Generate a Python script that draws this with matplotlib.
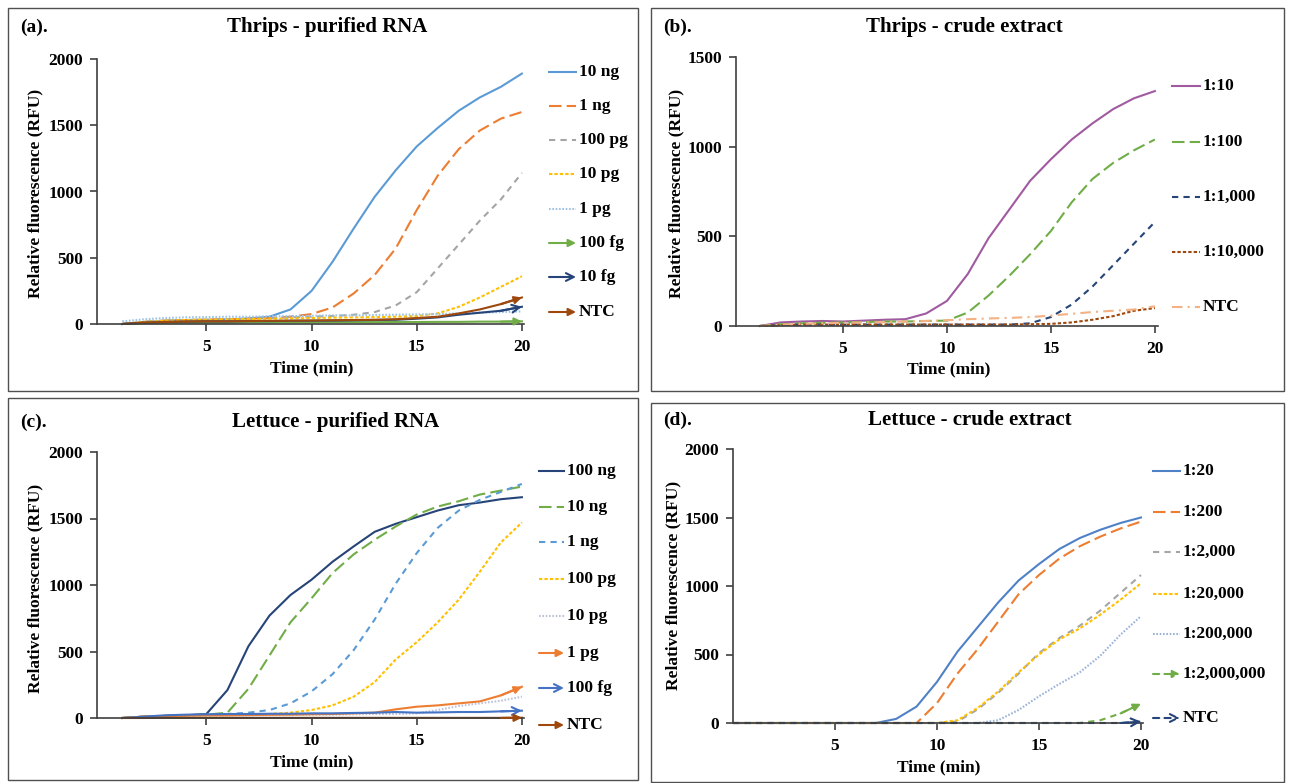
import matplotlib.pyplot as plt
from matplotlib.lines import Line2D
from matplotlib.patches import Rectangle, FancyArrowPatch

plt.rcParams['font.family'] = ['Liberation Serif', 'DejaVu Serif']
plt.rcParams['font.weight'] = 'bold'

# ---------------- data ----------------
time_abc = list(range(1, 21))
time_d = list(range(0, 21))

# (a) Thrips - purified RNA
a_labels = ['10 ng', '1 ng', '100 pg', '10 pg', '1 pg', '100 fg', '10 fg', 'NTC']
a_10ng = [0, 15, 25, 30, 32, 35, 42, 55, 110, 250, 470, 720, 960, 1160, 1340, 1480, 1610, 1710, 1790, 1890]
a_1ng = [0, 15, 25, 30, 32, 35, 40, 45, 55, 75, 125, 230, 370, 570, 860, 1120, 1320, 1460, 1550, 1600]
a_100pg = [0, 15, 25, 30, 32, 35, 40, 45, 50, 55, 60, 70, 90, 140, 240, 420, 600, 780, 940, 1140]
a_10pg = [0, 15, 25, 30, 32, 35, 38, 40, 42, 45, 48, 50, 52, 55, 60, 80, 130, 200, 280, 360]
a_1pg = [20, 35, 45, 50, 52, 55, 55, 58, 60, 62, 65, 65, 68, 70, 72, 75, 80, 85, 90, 95]
a_100fg = [0, 5, 8, 10, 10, 10, 12, 12, 12, 12, 14, 14, 14, 15, 15, 16, 16, 18, 18, 20]
a_10fg = [0, 10, 15, 18, 20, 20, 22, 22, 24, 25, 26, 28, 30, 32, 40, 50, 70, 85, 100, 130]
a_ntc = [0, 10, 15, 18, 20, 20, 22, 24, 25, 26, 28, 30, 32, 36, 45, 55, 80, 110, 150, 200]

# (b) Thrips - crude extract
b_labels = ['1:10', '1:100', '1:1,000', '1:10,000', 'NTC']
b_10 = [0, 20, 25, 28, 25, 30, 35, 38, 70, 140, 290, 490, 650, 810, 930, 1040, 1130, 1210, 1270, 1310]
b_100 = [0, 10, 15, 18, 20, 22, 25, 25, 28, 30, 75, 170, 280, 400, 530, 690, 820, 910, 980, 1040]
b_1000 = [0, 5, 8, 8, 8, 8, 8, 8, 8, 8, 8, 8, 8, 15, 50, 120, 220, 340, 460, 580]
b_10000 = [0, 5, 8, 8, 8, 8, 8, 8, 8, 8, 8, 8, 8, 10, 12, 20, 35, 55, 85, 100]
b_ntc = [0, 8, 12, 15, 18, 20, 22, 25, 28, 32, 38, 42, 45, 50, 58, 68, 78, 85, 92, 110]

# (c) Lettuce - purified RNA
c_labels = ['100 ng', '10 ng', '1 ng', '100 pg', '10 pg', '1 pg', '100 fg', 'NTC']
c_100ng = [0, 10, 15, 20, 30, 210, 540, 770, 925, 1040, 1175, 1290, 1400, 1460, 1510, 1560, 1600, 1620, 1645, 1660]
c_10ng = [0, 10, 15, 20, 25, 40, 220, 470, 720, 900, 1090, 1230, 1340, 1440, 1530, 1590, 1630, 1680, 1710, 1740]
c_1ng = [0, 10, 15, 20, 25, 30, 40, 60, 110, 200, 330, 510, 740, 1010, 1240, 1430, 1560, 1640, 1700, 1760]
c_100pg = [0, 10, 15, 20, 20, 22, 25, 30, 40, 60, 95, 160, 270, 440, 570, 720, 890, 1100, 1320, 1470]
c_10pg = [0, 10, 15, 18, 20, 20, 20, 22, 22, 25, 25, 28, 30, 30, 35, 60, 90, 110, 130, 160]
c_1pg = [0, 10, 15, 18, 20, 20, 22, 24, 25, 28, 30, 35, 40, 65, 85, 95, 110, 125, 170, 235]
c_100fg = [0, 10, 20, 25, 28, 30, 30, 32, 32, 35, 35, 38, 40, 45, 40, 42, 45, 45, 50, 55]
c_ntc = [0, 0, 1, 1, 1, 1, 1, 1, 1, 1, 1, 1, 1, 1, 1, 1, 1, 1, 1, 2]

# (d) Lettuce - crude extract
d_labels = ['1:20', '1:200', '1:2,000', '1:20,000', '1:200,000', '1:2,000,000', 'NTC']
d_20 = [0, 0, 0, 0, 0, 0, 0, 0, 30, 120, 300, 520, 700, 880, 1040, 1160, 1270, 1350, 1410, 1460, 1500]
d_200 = [0, 0, 0, 0, 0, 0, 0, 0, 0, 0, 145, 360, 540, 740, 940, 1080, 1200, 1290, 1360, 1420, 1470]
d_2000 = [0, 0, 0, 0, 0, 0, 0, 0, 0, 0, 0, 10, 100, 220, 360, 510, 620, 710, 820, 950, 1080]
d_20000 = [0, 0, 0, 0, 0, 0, 0, 0, 0, 0, 0, 20, 110, 230, 370, 500, 610, 690, 790, 900, 1020]
d_200000 = [0, 0, 0, 0, 0, 0, 0, 0, 0, 0, 0, 0, 0, 20, 95, 195, 285, 370, 490, 645, 780]
d_2000000 = [0, 0, 0, 0, 0, 0, 0, 0, 0, 0, 0, 0, 0, 0, 0, 0, 0, 0, 20, 70, 140]
d_ntc = [0, 0, 0, 0, 0, 0, 0, 0, 0, 0, 0, 0, 0, 0, 0, 0, 0, 0, 0, 0, 10]

# ---------------- styles ----------------
SOLID = '-'
LONG = (0, (6, 2.5))
DASH = (0, (3, 2.5))
SQDOT = (0, (1.6, 1))
DOT = (0, (0.8, 0.8))
DASHDOT = (0, (5, 2.5, 1, 2.5))

W, H = 1290, 783
fig = plt.figure(figsize=(W / 100, H / 100), dpi=100)


def fx(x):
    return x / W


def fy(y):
    return 1 - y / H


panels = [
    dict(tag='(a).', title='Thrips - purified RNA', frame=(8, 8, 638, 391),
         ax=(97, 59, 524, 324), xlim=(-0.2, 20.1), ylim=2000, t=time_abc,
         series=[a_10ng, a_1ng, a_100pg, a_10pg, a_1pg, a_100fg, a_10fg, a_ntc],
         labels=a_labels,
         styles=[('#5B9BD5', SOLID, None), ('#ED7D31', LONG, None), ('#A5A5A5', DASH, None),
                 ('#FFC000', SQDOT, None), ('#9DC3E6', DOT, None), ('#70AD47', SOLID, '-|>'),
                 ('#264478', SOLID, '->'), ('#9E480E', SOLID, '-|>')],
         leg=(549, 576, [72, 106, 140, 174, 209, 243, 277, 312]),
         tagpos=(20, 27), titlepos=(327, 27), ylab=(35, 193), xlab=(312, 368)),
    dict(tag='(b).', title='Thrips - crude extract', frame=(651, 8, 1284, 391),
         ax=(736, 57, 1158, 326), xlim=(-0.15, 20.15), ylim=1500, t=time_abc,
         series=[b_10, b_100, b_1000, b_10000, b_ntc],
         labels=b_labels,
         styles=[('#A05AA0', SOLID, None), ('#70AD47', LONG, None), ('#264478', DASH, None),
                 ('#9E480E', SQDOT, None), ('#F4B183', DASHDOT, None)],
         leg=(1172, 1200, [86, 142, 197, 252, 307]),
         tagpos=(663, 27), titlepos=(964, 27), ylab=(676, 193), xlab=(949, 369)),
    dict(tag='(c).', title='Lettuce - purified RNA', frame=(8, 398, 638, 780),
         ax=(97, 452, 524, 718), xlim=(-0.2, 20.1), ylim=2000, t=time_abc,
         series=[c_100ng, c_10ng, c_1ng, c_100pg, c_10pg, c_1pg, c_100fg, c_ntc],
         labels=c_labels,
         styles=[('#264478', SOLID, None), ('#70AD47', LONG, None), ('#5B9BD5', DASH, None),
                 ('#FFC000', SQDOT, None), ('#BDC3D8', DOT, None), ('#ED7D31', SOLID, '-|>'),
                 ('#4472C4', SOLID, '->'), ('#9E480E', SOLID, '-|>')],
         leg=(539, 564, [471, 507, 542, 579, 616, 653, 688, 725]),
         tagpos=(20, 422), titlepos=(336, 422), ylab=(35, 588), xlab=(312, 762)),
    dict(tag='(d).', title='Lettuce - crude extract', frame=(651, 403, 1284, 782),
         ax=(733, 449, 1143, 723), xlim=(0, 20.1), ylim=2000, t=time_d,
         series=[d_20, d_200, d_2000, d_20000, d_200000, d_2000000, d_ntc],
         labels=d_labels,
         styles=[('#4F81C7', SOLID, None), ('#ED7D31', LONG, None), ('#A5A5A5', DASH, None),
                 ('#FFC000', SQDOT, None), ('#9DB4D8', DOT, None), ('#70AD47', DASH, '-|>'),
                 ('#264478', DASH, '->')],
         leg=(1153, 1180, [471, 512, 552, 594, 634, 674, 718]),
         tagpos=(663, 420), titlepos=(970, 420), ylab=(673, 585), xlab=(939, 767)),
]

LW = 1.5
AX_C = '#404040'

for p in panels:
    l, t, r, b = p['frame']
    fig.add_artist(Rectangle((fx(l), fy(b)), (r - l) / W, (b - t) / H, transform=fig.transFigure,
                             fill=False, ec='#505050', lw=1.0))
    l, t, r, b = p['ax']
    ax = fig.add_axes([fx(l), fy(b), (r - l) / W, (b - t) / H])
    for s in ['top', 'right']:
        ax.spines[s].set_visible(False)
    for s in ['left', 'bottom']:
        ax.spines[s].set_color(AX_C)
        ax.spines[s].set_linewidth(1.2)
    ax.set_xlim(*p['xlim'])
    ax.set_ylim(0, p['ylim'])
    ax.set_xticks([5, 10, 15, 20])
    ax.set_yticks(list(range(0, p['ylim'] + 1, 500)))
    ax.tick_params(axis='both', direction='out', length=5, width=1.2, color=AX_C, labelsize=12.5)
    ax.tick_params(axis='y', pad=5)
    ax.tick_params(axis='x', pad=6)
    ax.patch.set_alpha(0)

    tt = p['t']
    lx0, lx1, lys = p['leg']
    for y, lab, (c, ls, arrow) in zip(p['series'], p['labels'], p['styles']):
        ax.plot(tt, y, color=c, linestyle=ls, lw=LW, clip_on=False)
        if arrow:
            ax.annotate('', xy=(tt[-1], y[-1]), xytext=(tt[-2], y[-2]),
                        arrowprops=dict(arrowstyle=arrow, color=c, lw=LW, shrinkA=0, shrinkB=0,
                                        mutation_scale=11 if arrow == '-|>' else 14))
    for ly, lab, (c, ls, arrow) in zip(lys, p['labels'], p['styles']):
        if arrow:
            fig.add_artist(FancyArrowPatch((fx(lx0), fy(ly)), (fx(lx1), fy(ly)),
                                           transform=fig.transFigure, arrowstyle=arrow, color=c,
                                           lw=LW, linestyle=ls if ls != SOLID else '-',
                                           shrinkA=0, shrinkB=0,
                                           mutation_scale=11 if arrow == '-|>' else 14))
        else:
            fig.add_artist(Line2D([fx(lx0), fx(lx1)], [fy(ly), fy(ly)], transform=fig.transFigure,
                                  color=c, linestyle=ls, lw=LW))
        fig.text(fx(lx1 + 3), fy(ly), lab, fontsize=12.5, ha='left', va='center')

    fig.text(fx(p['tagpos'][0]), fy(p['tagpos'][1]), p['tag'], fontsize=14, ha='left', va='center')
    fig.text(fx(p['titlepos'][0]), fy(p['titlepos'][1]), p['title'], fontsize=15, ha='center', va='center')
    fig.text(fx(p['ylab'][0]), fy(p['ylab'][1]), 'Relative fluorescence (RFU)', fontsize=12.5,
             rotation=90, ha='center', va='center')
    fig.text(fx(p['xlab'][0]), fy(p['xlab'][1]), 'Time (min)', fontsize=12.5, ha='center', va='center')

fig.savefig('out.png', dpi=100, facecolor='white')
